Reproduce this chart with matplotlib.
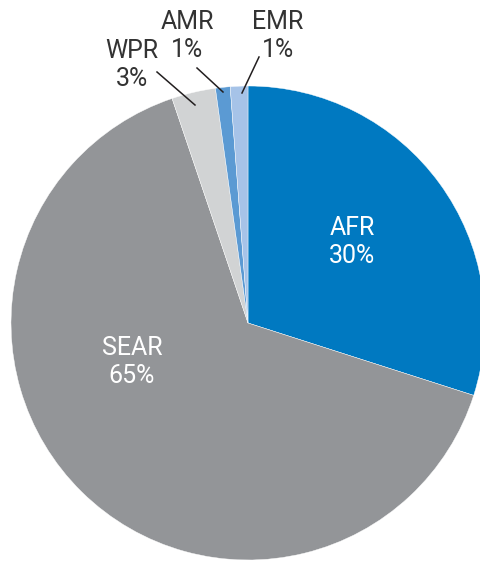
import matplotlib
matplotlib.use("Agg")
import matplotlib.pyplot as plt

regions = ["AFR", "SEAR", "WPR", "AMR", "EMR"]
shares = [30, 65, 3, 1, 1.2]
pct_labels = ["30%", "65%", "3%", "1%", "1%"]
colors = ["#0079c1", "#939598", "#d1d3d4", "#5b9ad3", "#a6c3e8"]

W, H = 481, 562
cx, cy, R = 248, 323, 237

fig = plt.figure(figsize=(W / 100, H / 100), dpi=100)
ax = fig.add_axes([(cx - R) / W, (H - cy - R) / H, 2 * R / W, 2 * R / H])
ax.pie(shares, colors=colors, startangle=90, counterclock=False,
       wedgeprops=dict(linewidth=0.3, edgecolor="white", clip_on=False))
ax.set_xlim(-1, 1)
ax.set_ylim(-1, 1)
ax.axis("off")

def d(px, py):
    return ((px - cx) / R, (cy - py) / R)

fam = ["Roboto", "DejaVu Sans"]
fs = 18
wt = "normal"

def lab(px, py, txt, col):
    ax.text(*d(px, py), txt, color=col, fontsize=fs, family=fam, weight=wt,
            ha="center", va="center", linespacing=1.2)

# inside labels
lab(352, 242, regions[0] + "\n" + pct_labels[0], "white")
lab(132, 362, regions[1] + "\n" + pct_labels[1], "white")

# outside labels
tc = "#333333"
lab(132, 65, regions[2] + "\n" + pct_labels[2], tc)
lab(187, 36, regions[3] + "\n" + pct_labels[3], tc)
lab(278, 36, regions[4] + "\n" + pct_labels[4], tc)

for (x0, y0, x1, y1) in [(157, 72, 195, 105), (197, 68, 223, 92), (259, 57, 242, 93)]:
    a, b = d(x0, y0)
    c, e = d(x1, y1)
    ax.plot([a, c], [b, e], color="#231f20", lw=1.1, clip_on=False)

fig.savefig("out.png", dpi=100)
